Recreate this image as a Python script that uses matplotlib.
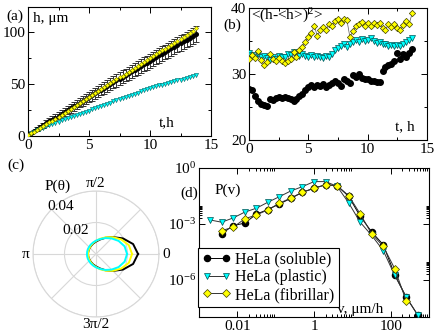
import numpy as np
import matplotlib
matplotlib.use("Agg")
import matplotlib.pyplot as plt
from matplotlib.ticker import FixedLocator, NullFormatter

plt.rcParams['font.family'] = ['Liberation Serif', 'DejaVu Serif']
plt.rcParams['mathtext.fontset'] = 'custom'
plt.rcParams['mathtext.rm'] = 'Liberation Serif'
plt.rcParams['mathtext.it'] = 'Liberation Serif:italic'

# ---- (a) mean height h(t), 15 min sampling ----
t = np.arange(56) * 0.25

a_black = [0.5, 2.8, 4.8, 6.7, 8.6, 10.4, 12.2, 14.0,
           15.8, 17.6, 19.4, 21.2, 23.0, 24.8, 26.6, 28.4,
           30.2, 32.0, 33.8, 35.6, 37.4, 39.2, 41.0, 42.8,
           44.6, 46.3, 48.1, 49.9, 51.6, 53.4, 55.1, 56.9,
           58.6, 60.3, 62.1, 63.8, 65.5, 67.2, 68.9, 70.6,
           72.3, 74.0, 75.7, 77.4, 79.1, 80.8, 82.5, 84.2,
           85.9, 87.6, 89.3, 91.0, 92.7, 94.4, 96.1, 97.8]
a_black_err = [0.5, 1.0, 1.4, 1.8, 2.1, 2.4, 2.7, 2.9,
               3.1, 3.3, 3.5, 3.7, 3.9, 4.0, 4.2, 4.3,
               4.5, 4.6, 4.7, 4.9, 5.0, 5.1, 5.2, 5.3,
               5.4, 5.5, 5.6, 5.7, 5.8, 5.9, 6.0, 6.1,
               6.2, 6.2, 6.3, 6.4, 6.5, 6.5, 6.6, 6.7,
               6.8, 6.8, 6.9, 7.0, 7.0, 7.1, 7.2, 7.2,
               7.3, 7.3, 7.4, 7.5, 7.5, 7.6, 7.6, 7.7]
a_yellow = [0.5, 2.5, 4.3, 6.0, 7.8, 9.5, 11.2, 13.0,
            14.8, 16.7, 18.6, 20.4, 22.2, 24.0, 25.9, 27.8,
            29.7, 31.6, 33.5, 35.4, 37.4, 39.3, 41.2, 43.1,
            45.0, 46.9, 48.7, 50.6, 52.5, 54.4, 56.3, 58.1,
            60.0, 61.8, 63.7, 65.5, 67.4, 69.2, 71.0, 72.8,
            74.6, 76.5, 78.4, 80.3, 82.2, 84.0, 85.9, 87.8,
            89.7, 91.6, 93.5, 95.5, 97.4, 99.4, 101.4, 103.5]
a_cyan = [0.3, 2.5, 4.2, 5.6, 6.9, 8.1, 9.2, 10.3,
          11.6, 12.8, 13.9, 15.0, 16.1, 17.2, 18.3, 19.4,
          20.4, 21.4, 22.4, 23.4, 24.4, 25.5, 26.6, 27.7,
          28.8, 29.9, 31.0, 32.1, 33.2, 34.3, 35.4, 36.5,
          37.6, 38.6, 39.7, 40.7, 41.8, 42.8, 43.9, 44.9,
          45.9, 46.8, 47.7, 48.6, 49.5, 50.3, 51.1, 51.9,
          52.7, 53.5, 54.3, 55.1, 55.9, 56.7, 57.5, 58.3]

# ---- (b) width <(h-<h>)^2> ----
b_black = [27.8, 27.6, 26.6, 25.9, 25.5, 25.3, 25.2, 26.2,
           26.0, 26.3, 26.5, 26.4, 26.5, 26.3, 26.2, 25.9,
           26.2, 26.6, 27.0, 27.5, 28.1, 28.3, 28.0, 28.4,
           28.2, 28.5, 28.1, 28.4, 28.6, 29.0, 28.7, 28.2,
           29.3, 29.0, 28.7, 29.8, 29.5, 30.0, 29.4, 29.2,
           29.2, 29.0, 28.9, 28.8, 28.8, 30.4, 31.0, 31.4,
           31.5, 32.0, 33.2, 32.2, 33.0, 32.6, 33.2, 33.8]
b_cyan = [33.2, 32.9, 32.6, 33.0, 32.5, 32.8, 32.4, 32.1,
          32.6, 32.3, 32.8, 32.5, 32.6, 33.1, 32.9, 33.4,
          33.0, 32.7, 33.1, 32.8, 32.6, 32.9, 32.5, 32.8,
          32.6, 32.4, 32.7, 32.5, 33.0, 33.6, 33.9, 34.2,
          34.5, 34.1, 34.6, 34.9, 35.1, 34.8, 35.3, 35.0,
          35.2, 35.4, 35.0, 34.7, 34.9, 34.6, 34.5, 34.3,
          34.4, 34.2, 34.4, 34.3, 34.6, 34.9, 35.2, 35.4]
b_yellow = [32.2, 32.9, 32.4, 33.5, 32.1, 31.4, 31.8, 33.0,
            32.2, 31.9, 32.4, 32.0, 31.7, 31.9, 32.3, 33.3,
            32.6, 33.6, 34.1, 34.9, 35.6, 36.2, 37.3, 35.8,
            36.6, 37.1, 36.7, 37.6, 37.2, 38.1, 38.3, 37.8,
            38.4, 38.2, 35.6, 36.5, 37.2, 37.6, 37.9, 37.3,
            37.7, 37.2, 37.8, 37.4, 37.7, 37.0, 36.7, 37.5,
            37.1, 37.6, 37.0, 36.6, 37.4, 38.0, 37.6, 39.2]

# ---- (c) angular distribution P(theta), upper half (lower half mirrored) ----
theta_deg = [0, 15, 30, 45, 60, 75, 90, 105, 120, 135, 150, 165, 180]
c_black = [.0267, .0244, .0198, .0152, .0119, .0095, .0079, .0069, .0061, .0056, .0053, .0051, .0051]
c_cyan = [.0197, .0188, .0166, .0140, .0117, .0098, .0085, .0075, .0068, .0063, .0060, .0058, .0057]
c_yellow = [.0229, .0216, .0185, .0151, .0122, .0100, .0083, .0072, .0063, .0057, .0053, .0051, .0051]

# ---- (d) velocity distribution P(v), log10 values ----
v_bins = [0.00195, 0.0039, 0.0078, 0.0156, 0.03125, 0.0625, 0.125, 0.25, 0.5,
          1, 2, 4, 8, 16, 32, 64, 128, 256, 512]
logP_cyan = [-2.79, -2.91, -2.68, -2.37, -2.16, -1.84, -1.54, -1.23, -1.0,
             -0.73, -0.73, -0.98, -1.87, -2.91, -3.62, -4.43, -5.77, -6.93, -7.91]
logP_black = [-3.53, -3.09, -2.96, -2.48, -2.23, -1.93, -1.63, -1.30, -1.09,
              -0.89, -0.95, -1.52, -2.59, -3.43, -4.12, -5.73, -6.95, -7.9]
logP_yellow = [-3.36, -3.18, -2.73, -2.52, -2.25, -1.89, -1.61, -1.30, -1.09,
               -0.91, -0.95, -1.48, -2.46, -3.54, -4.20, -5.41, -7.16]

YEL = '#ffff00'
CYA = '#00ffff'
FS = 11

W, H = 436, 334
fig = plt.figure(figsize=(W / 100, H / 100), dpi=100)


def box(l, r, top, bot):
    return [l / W, (H - bot) / H, (r - l) / W, (bot - top) / H]


def style(ax):
    ax.tick_params(which='both', direction='in', top=True, right=True, labelsize=FS, pad=2)
    ax.tick_params(which='major', length=4, width=0.7)
    ax.tick_params(which='minor', length=2, width=0.7)
    for s in ax.spines.values():
        s.set_linewidth(0.8)


# (a)
ax = fig.add_axes(box(28, 211, 7, 136))
ax.errorbar(t, a_black, yerr=a_black_err, fmt='o', ms=2.6, color='k', ecolor='#333333',
            elinewidth=0.7, capsize=2.5, capthick=0.7, zorder=2)
ax.plot(t, a_cyan, 'v', ms=3.0, color=CYA, mec='#006060', mew=0.4, zorder=3)
ax.plot(t, a_yellow, 'D', ms=2.2, color=YEL, mec='#808000', mew=0.4, zorder=4)
ax.set_xlim(0, 15)
ax.set_ylim(0, 124)
ax.set_xticks([0, 5, 10, 15])
ax.set_yticks([0, 50, 100])
ax.xaxis.set_minor_locator(FixedLocator([2.5, 7.5, 12.5]))
ax.yaxis.set_minor_locator(FixedLocator([25, 75]))
style(ax)
ax.text(0.027, 0.91, 'h, μm', transform=ax.transAxes, fontsize=FS, ha='left', va='center')
ax.text(0.76, 0.10, 't,h', transform=ax.transAxes, fontsize=FS, ha='center', va='center')
fig.text(15 / W, 1 - 16 / H, '(a)', fontsize=FS, ha='center', va='center')

# (b)
ax = fig.add_axes(box(249, 427, 8, 140))
ax.plot(t, b_black, 'o', ms=4.0, color='k', zorder=2)
ax.plot(t, b_cyan, '-v', lw=0.5, color='#555555', ms=4.0, mfc=CYA, mec='#005050', mew=0.5, zorder=3)
ax.plot(t, b_yellow, '-D', lw=0.5, color='#555555', ms=3.2, mfc=YEL, mec='#404000', mew=0.5, zorder=4)
ax.set_xlim(0, 15)
ax.set_ylim(20, 40)
ax.set_xticks([0, 5, 10, 15])
ax.set_yticks([20, 30, 40])
ax.xaxis.set_minor_locator(FixedLocator([2.5, 7.5, 12.5]))
ax.yaxis.set_minor_locator(FixedLocator([25, 35]))
style(ax)
ax.text(0.01, 0.94, r'<(h-<h>)$\mathregular{^2}$>', transform=ax.transAxes, fontsize=FS,
        ha='left', va='center')
ax.text(0.876, 0.10, 't, h', transform=ax.transAxes, fontsize=FS, ha='center', va='center')
fig.text(232 / W, 1 - 25 / H, '(b)', fontsize=FS, ha='center', va='center')

# (c) polar
ax = fig.add_axes(box(33, 159, 191, 317), projection='polar')
th = np.deg2rad(theta_deg)
th_full = np.concatenate([th, 2 * np.pi - th[-2::-1]])
for r, col in [(c_black, 'k'), (c_yellow, YEL), (c_cyan, CYA)]:
    r = np.asarray(r)
    ax.plot(th_full, np.concatenate([r, r[-2::-1]]), color=col, lw=1.4)
ax.set_ylim(0, 0.04)
ax.set_yticks([0.02, 0.04])
ax.set_yticklabels([])
ax.set_xticks(np.deg2rad([0, 45, 90, 135, 180, 225, 270, 315]))
ax.set_xticklabels(['0', '', 'π/2', '', 'π', '', '3π/2', ''], fontsize=FS)
ax.tick_params(axis='x', pad=-5)
ax.grid(color='#d8d8d8', lw=0.8)
ax.spines['polar'].set_color('#d8d8d8')
ax.spines['polar'].set_linewidth(0.8)
fig.text(58 / W, 1 - 186 / H, 'P(θ)', fontsize=FS, ha='center', va='center')
fig.text(61 / W, 1 - 206 / H, '0.04', fontsize=FS, ha='center', va='center')
fig.text(76 / W, 1 - 230 / H, '0.02', fontsize=FS, ha='center', va='center')
fig.text(16 / W, 1 - 165 / H, '(c)', fontsize=FS, ha='center', va='center')

# (d)
ax = fig.add_axes(box(199, 429, 168, 317))
ax.plot(v_bins[1:], 10 ** np.asarray(logP_black), '-o', color='k', lw=0.7, ms=4.4,
        label='HeLa (soluble)', zorder=2)
ax.plot(v_bins, 10 ** np.asarray(logP_cyan), '-v', color='#333333', lw=0.7, ms=4.4,
        mfc=CYA, mec='#005050', mew=0.5, label='HeLa (plastic)', zorder=3)
ax.plot(v_bins[1:-1], 10 ** np.asarray(logP_yellow), '-D', color='#333333', lw=0.7, ms=3.6,
        mfc=YEL, mec='#404000', mew=0.5, label='HeLa (fibrillar)', zorder=4)
ax.set_xscale('log')
ax.set_yscale('log')
ax.set_xlim(1e-3, 1e3)
ax.set_ylim(1e-8, 1)
ax.set_xticks([1e-2, 1, 1e2])
ax.set_xticklabels(['0.01', '1', '100'])
ax.set_yticks([1e-6, 1e-3, 1])
ax.set_yticklabels([r'$\mathregular{10^{-6}}$', r'$\mathregular{10^{-3}}$', r'$\mathregular{10^{0}}$'])
ax.xaxis.set_minor_locator(FixedLocator([m * d for d in (1e-2, 1, 1e2) for m in range(2, 10)]))
ax.yaxis.set_minor_locator(FixedLocator([m * d for d in (1e-6, 1e-3) for m in range(2, 10)]))
ax.xaxis.set_minor_formatter(NullFormatter())
ax.yaxis.set_minor_formatter(NullFormatter())
style(ax)
leg = ax.legend(loc='lower left', bbox_to_anchor=(-0.005, 0.067), borderaxespad=0,
                fontsize=11.5, numpoints=2, handlelength=1.8, handletextpad=0.3,
                labelspacing=0.1, borderpad=0.25, fancybox=False, framealpha=1)
leg.get_frame().set_edgecolor('k')
leg.get_frame().set_linewidth(0.8)
ax.text(0.124, 0.852, 'P(v)', transform=ax.transAxes, fontsize=FS, ha='center', va='center')
ax.text(0.70, 0.047, 'v, μm/h', transform=ax.transAxes, fontsize=FS, ha='center', va='center')
fig.text(189.5 / W, 1 - 193 / H, '(d)', fontsize=FS, ha='center', va='center')

fig.savefig('out.png', dpi=100)
